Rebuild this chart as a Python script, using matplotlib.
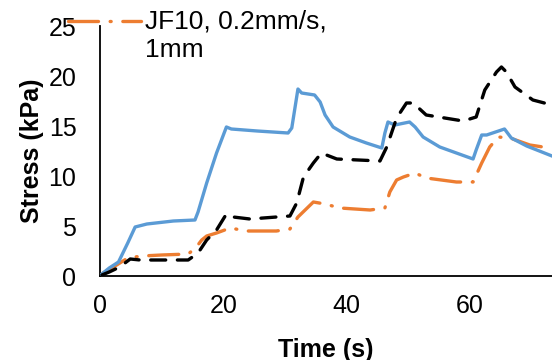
import matplotlib
matplotlib.use("Agg")
import matplotlib.pyplot as plt

plt.rcParams["font.family"] = ["Liberation Sans", "DejaVu Sans"]

# Stress relaxation traces, time in seconds and stress in kPa
blue_t = [0.1, 1.5, 3.0, 4.5, 5.7, 7.6, 11.9, 15.4, 15.9, 17.3, 18.9, 20.5, 21.3, 25.5,
          30.5, 31.1, 32.1, 32.7, 34.8, 35.7, 36.5, 37.8, 40.5, 43.2, 45.7, 46.2, 46.7,
          47.8, 50.2, 51.1, 52.4, 55.1, 57.8, 60.5, 61.0, 61.9, 62.7, 65.6, 66.7, 69.2, 73.3]
blue_s = [0.1, 0.8, 1.4, 3.3, 4.9, 5.2, 5.5, 5.6, 6.4, 9.3, 12.3, 14.9, 14.7, 14.5,
          14.3, 14.8, 18.7, 18.3, 18.1, 17.4, 16.1, 14.9, 13.9, 13.3, 12.8, 14.3, 15.4,
          15.1, 15.4, 14.9, 13.9, 12.9, 12.3, 11.7, 12.6, 14.1, 14.1, 14.7, 13.8, 13.0, 12.0]

black_t = [0.3, 1.5, 3.2, 4.9, 6.5, 10.0, 14.3, 15.9, 17.3, 18.9, 20.5, 21.6, 24.3,
           30.8, 31.9, 33.0, 34.6, 35.9, 38.4, 45.4, 46.5, 48.1, 49.7, 50.8, 52.9,
           58.9, 61.0, 62.4, 64.3, 65.1, 65.9, 67.3, 70.2, 73.3]
black_s = [0.1, 0.4, 0.9, 1.7, 1.6, 1.6, 1.6, 2.3, 3.6, 4.6, 6.2, 5.9, 5.7,
           6.0, 7.3, 9.9, 11.3, 12.3, 11.7, 11.5, 12.9, 15.8, 17.3, 17.3, 16.1,
           15.5, 15.9, 18.6, 20.4, 20.9, 20.4, 18.9, 17.6, 17.1]

orange_t = [0.0, 0.5, 2.7, 4.5, 6.8, 10.0, 14.3, 15.5, 16.5, 17.3, 18.9, 21.1, 23.8,
            28.6, 30.8, 32.1, 34.6, 36.5, 38.9, 43.8, 46.2, 47.0, 48.1, 49.2, 51.1,
            52.9, 57.8, 60.5, 61.9, 63.2, 64.6, 66.5, 69.7, 72.9, 73.3]
orange_s = [0.0, 0.3, 1.1, 1.8, 2.0, 2.1, 2.2, 2.8, 3.6, 4.0, 4.3, 4.8, 4.5,
            4.5, 4.7, 5.9, 7.4, 7.2, 6.8, 6.6, 6.8, 8.4, 9.6, 9.9, 10.3,
            9.8, 9.4, 9.4, 11.3, 12.9, 13.9, 13.8, 13.1, 12.8, 12.7]
orange_label = "JF10, 0.2mm/s,\n1mm"

x_ticks = [0, 20, 40, 60]
y_ticks = [0, 5, 10, 15, 20, 25]

fig = plt.figure(figsize=(5.52, 3.6), dpi=100)
ax = fig.add_axes([100 / 552, 1 - 276 / 360, 1 - 100 / 552, (276 - 26) / 360])

lw = 2.4
orange_line, = ax.plot(orange_t, orange_s, color="#ED7D31", lw=lw,
                       dashes=(9, 3.5, 0.3, 3.5), dash_capstyle="round",
                       solid_capstyle="round", label=orange_label, zorder=2)
ax.plot(blue_t, blue_s, color="#5B9BD5", lw=lw, solid_joinstyle="round", zorder=3)
ax.plot(black_t, black_s, color="black", lw=lw, dashes=(4.5, 3.5),
        dash_capstyle="round", zorder=4)

ax.set_xlim(0, 73.3)
ax.set_ylim(0, 25)
ax.set_xticks(x_ticks)
ax.set_yticks(y_ticks)
ax.tick_params(length=0, labelsize=18)
ax.tick_params(axis="x", pad=13)
ax.tick_params(axis="y", pad=17)
for side in ("top", "right"):
    ax.spines[side].set_visible(False)
for side in ("left", "bottom"):
    ax.spines[side].set_linewidth(1.3)
    ax.spines[side].set_color("black")

ax.set_xlabel("Time (s)", fontsize=18, fontweight="bold", labelpad=14)
ax.set_ylabel("Stress (kPa)", fontsize=18, fontweight="bold", labelpad=3)

leg = fig.legend(handles=[orange_line], loc="upper left",
                 bbox_to_anchor=(68 / 552, 1 - 10 / 360), frameon=False,
                 fontsize=19, handlelength=2.75, handletextpad=0.15,
                 borderpad=0, borderaxespad=0, labelspacing=0)
# keep the legend key level with the first text line
for h in leg.get_lines():
    h.set_ydata([y + 11 for y in h.get_ydata()])

fig.savefig("out.png", dpi=100)
